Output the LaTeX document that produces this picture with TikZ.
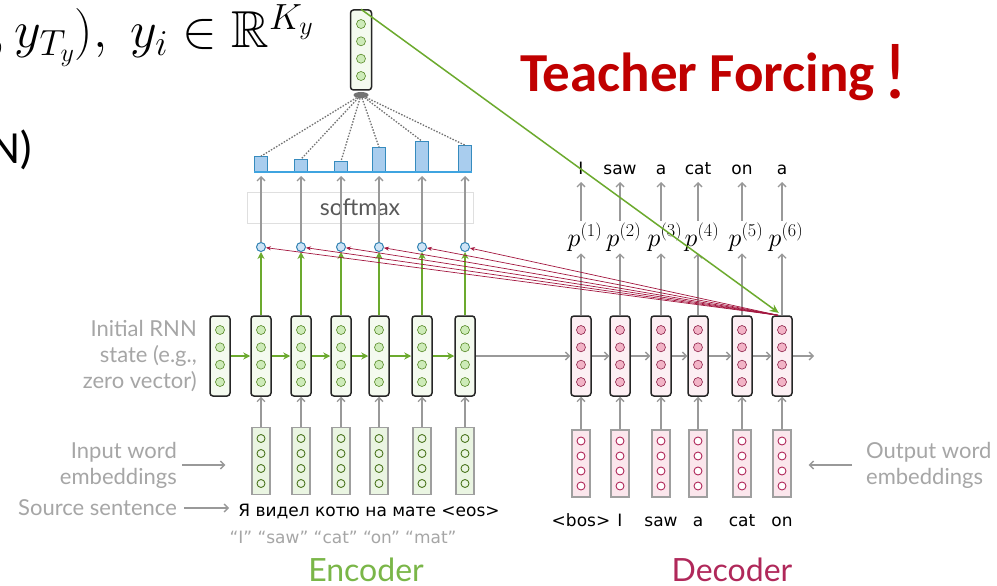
\RequirePackage{fix-cm}
\documentclass[tikz,border=0pt]{standalone}
\usepackage{amssymb}
\usepackage{fontspec}
\usetikzlibrary{arrows.meta,positioning,shapes.geometric}
\newfontfamily\slidefont{Carlito}
\newfontfamily\lblfont{Lato}
\newfontfamily\wordfont{DejaVu Sans}
\definecolor{encgreen}{HTML}{7AB648}
\definecolor{arrgreen}{HTML}{6CAA2E}
\definecolor{dotgreen}{HTML}{CDEBB8}
\definecolor{encfill}{HTML}{F4FAEF}
\definecolor{embgreen}{HTML}{EAF5E2}
\definecolor{decred}{HTML}{B0285A}
\definecolor{dotpink}{HTML}{F2B3C6}
\definecolor{decfill}{HTML}{FCEFF3}
\definecolor{embpink}{HTML}{FBE6EC}
\definecolor{attred}{HTML}{A3173F}
\definecolor{barblue}{HTML}{A9CDEE}
\definecolor{lineblue}{HTML}{3FA4E0}
\definecolor{dotblue}{HTML}{CFE4F6}
\definecolor{lblgray}{HTML}{A6A6A6}
\definecolor{arrgray}{HTML}{999999}
\definecolor{tfred}{HTML}{C00000}
\begin{document}
\begin{tikzpicture}[x=1pt, y=-1pt,
    rnnbox/.style={rectangle, rounded corners=3pt, draw=black!85, line width=1.5pt,
        minimum width=20pt, minimum height=80pt, inner sep=0pt},
    encbox/.style={rnnbox, fill=encfill},
    decbox/.style={rnnbox, fill=decfill},
    embbox/.style={rectangle, draw=gray!75, line width=1.2pt,
        minimum width=18pt, minimum height=67pt, inner sep=0pt},
    encdot/.style={draw=arrgreen!80!black, fill=dotgreen, line width=0.6pt},
    decdot/.style={draw=decred!80!black, fill=dotpink, line width=0.6pt},
    encembdot/.style={draw=arrgreen!70!black, fill=embgreen, line width=0.9pt},
    decembdot/.style={draw=decred, fill=white, line width=0.9pt},
    outdot/.style={circle, draw=lineblue!80!black, fill=dotblue, line width=1pt,
        minimum size=9pt, inner sep=0pt},
    bar/.style={rectangle, draw=lineblue!85!black, fill=barblue, line width=0.8pt,
        minimum width=13pt, inner sep=0pt, anchor=south},
    grayarrow/.style={draw=arrgray, line width=1.4pt, -{Straight Barb[length=4pt,width=8pt]}},
    greenarrow/.style={draw=arrgreen, line width=1.6pt, -{Stealth[length=7pt,width=7pt]}},
    attarrow/.style={draw=attred, line width=0.7pt, -{Stealth[length=5pt,width=4pt]}},
    lbl/.style={font=\lblfont\fontsize{22}{26}\selectfont, text=lblgray, inner sep=0pt},
    word/.style={font=\wordfont\fontsize{17}{20}\selectfont, inner sep=0pt},
]
\useasboundingbox[fill=white] (0,0) rectangle (997,586);

% slide text
\node[anchor=base east, inner sep=0pt, font=\fontsize{52}{56}\selectfont] (eq) at (314,48)
    {$,y_{T_y}),\; y_i\in\mathbb{R}^{K_y}$};
\node[anchor=base east, inner sep=0pt, font=\slidefont\fontsize{46}{50}\selectfont] (rnn) at (34,163) {N)};
\node[anchor=base west, inner sep=0pt, text=tfred, font=\slidefont\bfseries\fontsize{55}{60}\selectfont]
    (tf) at (520,92) {Teacher Forcing};
\node[inner sep=0pt, text=tfred, font=\slidefont\fontsize{80}{82}\selectfont] (bang) at (896,72) {!};

% encoder
\node[encbox] (e0) at (220,356) {};
\foreach \x/\h [count=\i] in {261/15,301/12,341/10,379/24,422/30,465/26} {
  \node[encbox] (e\i) at (\x,356) {};
  \node[embbox, fill=embgreen] (x\i) at (\x,461) {};
  \node[outdot] (o\i) at (\x,247) {};
  \node[bar, minimum height=\h pt] (b\i) at (\x,172) {};
}
\foreach \n in {e0,e1,e2,e3,e4,e5,e6}
  \foreach \dy in {-26,-8.7,8.7,26}
    \draw[encdot] ([yshift=\dy pt]\n.center) circle (4.5pt);
\foreach \i in {1,...,6} {
  \foreach \dy in {-22.5,-7.5,7.5,22.5}
    \draw[encembdot] ([yshift=\dy pt]x\i.center) circle (4pt);
  \draw[grayarrow] (x\i) -- (e\i);
  \draw[greenarrow] (e\i) -- (o\i);
}
\foreach \i [evaluate=\i as \j using int(\i+1)] in {0,...,5}
  \draw[greenarrow] (e\i) -- (e\j);

% softmax and output distribution
\node[rectangle, draw=gray!25, line width=1pt, minimum width=226pt, minimum height=31pt,
    font=\lblfont\fontsize{23}{26}\selectfont, text=black!65] (sm) at (360,207.5) {softmax};
\foreach \i in {1,...,6}
  \draw[grayarrow, shorten >=4pt] (o\i) -- (b\i.south);
\draw[lineblue, line width=1.6pt] (b1.south west) -- (b6.south east);

% predicted vector
\node[encbox, minimum width=21pt] (top) at (361,50) {};
\foreach \dy in {-26,-8.7,8.7,26}
  \draw[encdot] ([yshift=\dy pt]top.center) circle (4.5pt);
\node[ellipse, fill=black!55, minimum width=15pt, minimum height=6pt, inner sep=0pt] (hub) at (361,95) {};
\foreach \i in {1,...,6}
  \draw[black!55, line width=1.3pt, dash pattern=on 1.5pt off 1.5pt] (hub) -- (b\i.north);

% decoder
\foreach \x/\w/\v [count=\i] in {581/I/<bos>,620/saw/I,661/a/saw,698/cat/a,742/on/cat,782/a/on} {
  \node[decbox] (d\i) at (\x,356) {};
  \node[embbox, fill=embpink] (de\i) at (\x,463.5) {};
  \node[anchor=base, inner sep=0pt, font=\fontsize{26}{28}\selectfont] (p\i) at (\x+4,246) {$p^{(\i)}$};
  \node[word, anchor=base] (w\i) at (\x,175) {\w};
  \node[word, anchor=base] (v\i) at (\x,526) {\v};
}
\foreach \i in {1,...,6} {
  \foreach \dy in {-26,-8.7,8.7,26}
    \draw[decdot] ([yshift=\dy pt]d\i.center) circle (4.5pt);
  \foreach \dy in {-22.5,-7.5,7.5,22.5}
    \draw[decembdot] ([yshift=\dy pt]de\i.center) circle (4pt);
  \draw[grayarrow] (de\i) -- (d\i);
  \draw[grayarrow, shorten >=2pt] (d\i.north) -- (d\i.north |- p\i.south);
  \draw[grayarrow, shorten <=2pt, shorten >=7pt] (d\i.north |- p\i.north) -- (d\i.north |- w\i.base);
}
\foreach \i [evaluate=\i as \j using int(\i+1)] in {1,...,5}
  \draw[grayarrow] (d\i) -- (d\j);
\coordinate (dend) at (814,356);
\draw[grayarrow] (d6) -- (dend);
\draw[grayarrow] (e6) -- (d1);

% attention and teacher signal
\foreach \i in {1,...,6}
  \draw[attarrow] ([xshift=-4pt]d6.north) -- (o\i);
\draw[arrgreen, line width=1.5pt, -{Stealth[length=9pt,width=8pt]}, shorten >=4pt] (top.north) -- (d6.north);

% side labels
\node[lbl, align=right, anchor=east] (initlbl) at (197,356) {Initial RNN\\state (e.g.,\\zero vector)};
\node[lbl, align=right, anchor=east] (inlbl) at (177,465) {Input word\\embeddings};
\node[lbl, anchor=east] (srclbl) at (177,508) {Source sentence};
\node[lbl, align=left, anchor=west] (outlbl) at (866,465) {Output word\\embeddings};
\node[word, anchor=base] (src) at (369,516) {Я видел котю на мате <eos>};
\node[word, text=lblgray, font=\wordfont\fontsize{17}{20}\selectfont] (gloss) at (343,537) {“I” “saw” “cat” “on” “mat”};
\draw[grayarrow, shorten <=5pt, shorten >=26pt] (inlbl.east) -- (inlbl.east -| x1.west);
\draw[grayarrow, shorten <=7pt, shorten >=9pt] (srclbl.east) -- (srclbl.east -| src.west);
\draw[grayarrow, shorten <=14pt, shorten >=17pt] (outlbl.west) -- (outlbl.west -| de6.east);

\node[font=\lblfont\fontsize{32}{36}\selectfont, text=encgreen] (enc) at (366,570) {Encoder};
\node[font=\lblfont\fontsize{32}{36}\selectfont, text=decred] (dec) at (732,570) {Decoder};
\end{tikzpicture}
\end{document}
